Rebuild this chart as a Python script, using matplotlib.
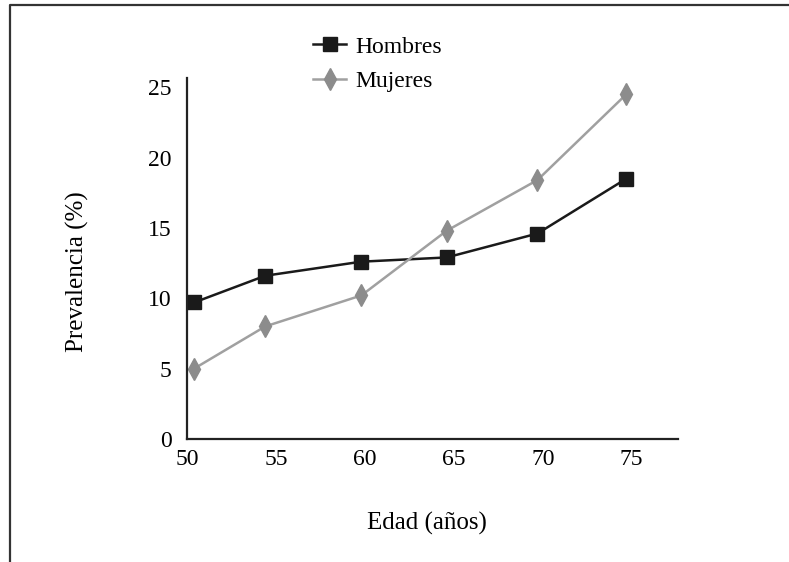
import matplotlib
matplotlib.use("Agg")
import matplotlib.pyplot as plt
from matplotlib.lines import Line2D

# values
edad = [50.4, 54.4, 59.8, 64.6, 69.7, 74.7]
hombres = [9.7, 11.6, 12.6, 12.9, 14.6, 18.5]
mujeres = [5.0, 8.0, 10.2, 14.8, 18.4, 24.5]
xticks = [50, 55, 60, 65, 70, 75]
yticks = [0, 5, 10, 15, 20, 25]

plt.rcParams["font.family"] = ["Liberation Serif", "DejaVu Serif"]
plt.rcParams["font.size"] = 17

fig = plt.figure(figsize=(7.89, 5.62), dpi=100)
ax = fig.add_axes([187 / 789, 1 - 439 / 562, (678 - 187) / 789, (439 - 78) / 562])

ax.plot(edad, hombres, color="#1a1a1a", lw=1.8, marker="s", ms=9.5,
        label="Hombres")
ax.plot(edad, mujeres, color="#a0a0a0", lw=1.8, marker="d", ms=11,
        mfc="#8c8c8c", mec="#8c8c8c", label="Mujeres")

ax.set_xlim(50, 77.6)
ax.set_ylim(0, 25.65)
ax.set_xticks(xticks)
ax.set_yticks(yticks)
ax.tick_params(length=0, labelsize=17)
ax.tick_params(axis="y", pad=11)
ax.tick_params(axis="x", pad=7)
for s in ["top", "right"]:
    ax.spines[s].set_visible(False)
for s in ["left", "bottom"]:
    ax.spines[s].set_linewidth(1.6)
    ax.spines[s].set_color("#222222")

ax.set_xlabel("Edad (años)", fontsize=18, va="center")
ax.set_ylabel("Prevalencia (%)", fontsize=18, va="center")
ax.xaxis.set_label_coords(0.489, -0.235)
ax.yaxis.set_label_coords(-0.224, 0.465)

fig.legend(loc="upper left", bbox_to_anchor=(313 / 789, 1 - 36 / 562),
           frameon=False, fontsize=17, handlelength=1.4, handletextpad=0.4,
           labelspacing=0.55, borderaxespad=0, borderpad=0)

# outer frame (only top and left edges visible)
fig.add_artist(Line2D([10 / 789, 10 / 789, 1], [0, 1 - 5 / 562, 1 - 5 / 562],
                      transform=fig.transFigure, color="#333333", lw=1.6))

fig.savefig("out.png", dpi=100)
